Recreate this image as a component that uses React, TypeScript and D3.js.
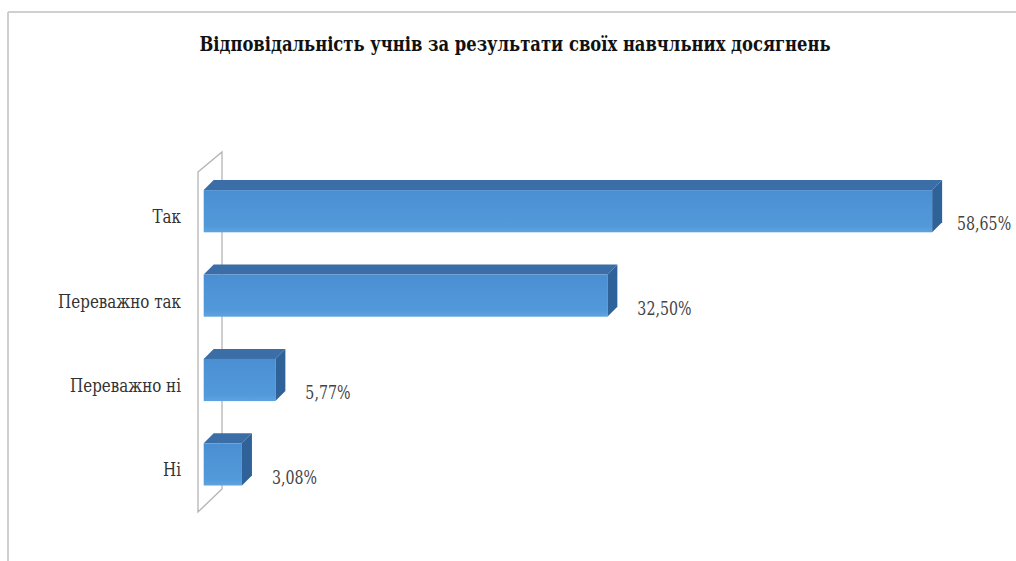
import React from "react";
import * as d3 from "d3";

const title = "Відповідальність учнів за результати своїх навчльних досягнень";
const categories = ["Так", "Переважно так", "Переважно ні", "Ні"];
const values = [58.65, 32.5, 5.77, 3.08];
const valueLabels = ["58,65%", "32,50%", "5,77%", "3,08%"];

const W = 1016;
const H = 561;
const FONT = "'DejaVu Serif Condensed', 'DejaVu Serif', serif";

export default function App() {
  const x = d3.scaleLinear().domain([0, 60]).range([203.7, 948.9]);
  const y = d3
    .scaleBand<string>()
    .domain(categories)
    .range([169, 506.6])
    .paddingInner(0.5)
    .paddingOuter(0.25);

  const dx = 10;
  const dy = -10;
  const bw = y.bandwidth();

  const wall = {
    fx: 198,
    bx: 222,
    ft: 172,
    bt: 152,
    fb: 512,
    bb: 489,
  };

  return (
    <svg
      width={W}
      height={H}
      style={{ position: "absolute", left: 0, top: 0, background: "#fff" }}
    >
      <defs>
        <linearGradient id="front" x1="0" y1="0" x2="0" y2="1">
          <stop offset="0" stopColor="#4a8fd2" />
          <stop offset="0.85" stopColor="#5299da" />
          <stop offset="1" stopColor="#5ea3e0" />
        </linearGradient>
      </defs>
      {/* frame */}
      <line x1={8} y1={12} x2={W} y2={12} stroke="#cfcfcf" strokeWidth={2} />
      <line x1={8} y1={12} x2={8} y2={H} stroke="#cfcfcf" strokeWidth={2} />

      {/* title */}
      <text
        transform={`translate(${515},${51}) scale(1,1.15)`}
        textAnchor="middle"
        style={{ fontFamily: FONT }}
        fontWeight="bold"
        fontSize={18.2}
        fill="#111"
      >
        {title}
      </text>

      {/* wall */}
      <polygon
        points={`${wall.fx},${wall.ft} ${wall.bx},${wall.bt} ${wall.bx},${wall.bb} ${wall.fx},${wall.fb}`}
        fill="#fff"
        stroke="#b4b4b4"
        strokeWidth={1.3}
      />

      {/* bars */}
      {categories.map((c, i) => {
        const x0 = x(0);
        const x1 = x(values[i]);
        const y0 = y(c)!;
        const y1 = y0 + bw;
        return (
          <g key={c}>
            <polygon
              points={`${x0},${y0} ${x0 + dx},${y0 + dy} ${x1 + dx},${y0 + dy} ${x1},${y0}`}
              fill="#3b6ea6"
            />
            <polygon
              points={`${x1},${y0} ${x1 + dx},${y0 + dy} ${x1 + dx},${y1 + dy} ${x1},${y1}`}
              fill="#2e6299"
            />
            <rect x={x0} y={y0} width={x1 - x0} height={bw} fill="url(#front)" />
          </g>
        );
      })}

      {/* category labels */}
      {categories.map((c) => (
        <text
          key={c}
          transform={`translate(${181},${y(c)! + bw / 2 + 12}) scale(1,1.12)`}
          textAnchor="end"
          style={{ fontFamily: FONT }}
          fontSize={16.8}
          fill="#333"
        >
          {c}
        </text>
      ))}

      {/* value labels */}
      {categories.map((c, i) => {
        const lx = Math.min(x(values[i]) + dx + 20, 957);
        return (
          <text
            key={c}
            transform={`translate(${lx},${y(c)! + bw - 2}) scale(1,1.12)`}
            style={{ fontFamily: FONT }}
            fontSize={15.8}
            fill="#444"
          >
            {valueLabels[i]}
          </text>
        );
      })}
    </svg>
  );
}
